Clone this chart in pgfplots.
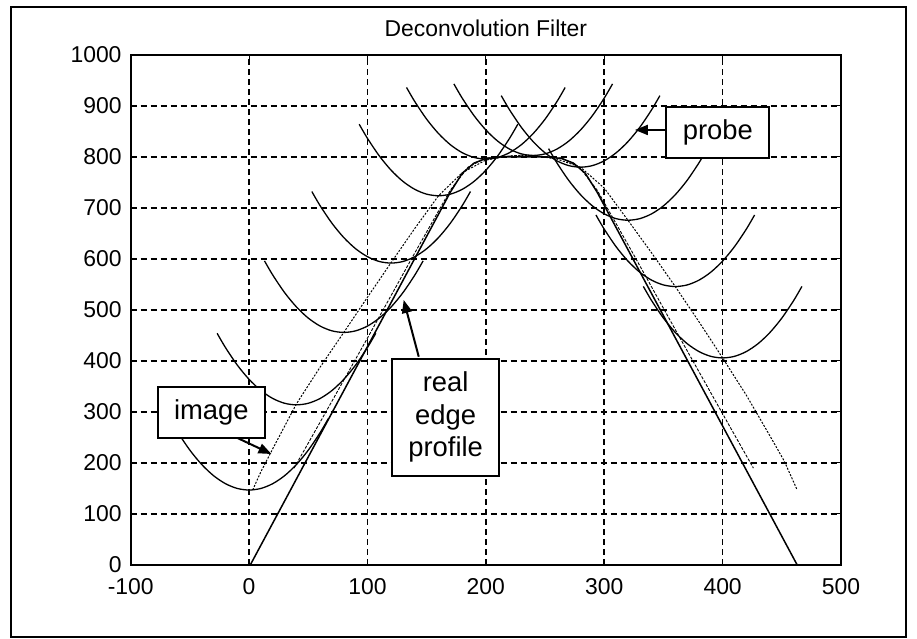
\documentclass[border=0pt]{standalone}
\usepackage{fontspec}
\setmainfont{Liberation Sans}
\usepackage{pgfplots}
\pgfplotsset{compat=1.18}
\usetikzlibrary{arrows.meta}
\begin{document}
\begin{tikzpicture}[x=1bp,y=1bp]
\path[use as bounding box] (0,0) rectangle (917,639);
\draw[line width=2bp] (11,2) rectangle (906,632);
\begin{axis}[
  at={(130.7bp,74bp)}, anchor=south west, scale only axis,
  width=710.3bp, height=510bp,
  xmin=-100, xmax=500, ymin=0, ymax=1000,
  xtick={-100,0,100,200,300,400,500},
  ytick={0,100,200,300,400,500,600,700,800,900,1000},
  grid=major,
  major grid style={dash pattern=on 6bp off 4bp, line width=1.5bp, black},
  axis line style={line width=1.6bp, black},
  tick style={black, line width=1bp}, major tick length=5bp, tick align=inside,
  /pgf/number format/assume math mode=true,
  /pgf/number format/1000 sep={},
  ticklabel style={font=\fontsize{23}{27}\selectfont, inner sep=0pt},
  xticklabel style={yshift=-13bp},
  yticklabel style={xshift=-9bp},
  clip=false,
]
% probe parabolas
\addplot[black, line width=1.3bp, smooth] coordinates {(-67,287.3) (-60,259.5) (-50,225.1) (-40,197) (-30,175.1) (-20,159.5) (-10,150.1) (0,147) (10,150.1) (20,159.5) (30,175.1) (40,197) (50,225.1) (60,259.5) (67,287.3)};
\addplot[black, line width=1.3bp, smooth] coordinates {(-27,454.3) (-20,426.5) (-10,392.1) (0,364) (10,342.1) (20,326.5) (30,317.1) (40,314) (50,317.1) (60,326.5) (70,342.1) (80,364) (90,392.1) (100,426.5) (107,454.3)};
\addplot[black, line width=1.3bp, smooth] coordinates {(13,596.3) (20,568.5) (30,534.1) (40,506) (50,484.1) (60,468.5) (70,459.1) (80,456) (90,459.1) (100,468.5) (110,484.1) (120,506) (130,534.1) (140,568.5) (147,596.3)};
\addplot[black, line width=1.3bp, smooth] coordinates {(53,732.3) (60,704.5) (70,670.1) (80,642) (90,620.1) (100,604.5) (110,595.1) (120,592) (130,595.1) (140,604.5) (150,620.1) (160,642) (170,670.1) (180,704.5) (187,732.3)};
\addplot[black, line width=1.3bp, smooth] coordinates {(93,864.3) (100,836.5) (110,802.1) (120,774) (130,752.1) (140,736.5) (150,727.1) (160,724) (170,727.1) (180,736.5) (190,752.1) (200,774) (210,802.1) (220,836.5) (227,864.3)};
\addplot[black, line width=1.3bp, smooth] coordinates {(133,936.3) (140,908.5) (150,874.1) (160,846) (170,824.1) (180,808.5) (190,799.1) (200,796) (210,799.1) (220,808.5) (230,824.1) (240,846) (250,874.1) (260,908.5) (267,936.3)};
\addplot[black, line width=1.3bp, smooth] coordinates {(173,943.3) (180,915.5) (190,881.1) (200,853) (210,831.1) (220,815.5) (230,806.1) (240,803) (250,806.1) (260,815.5) (270,831.1) (280,853) (290,881.1) (300,915.5) (307,943.3)};
\addplot[black, line width=1.3bp, smooth] coordinates {(213,920.3) (220,892.5) (230,858.1) (240,830) (250,808.1) (260,792.5) (270,783.1) (280,780) (290,783.1) (300,792.5) (310,808.1) (320,830) (330,858.1) (340,892.5) (347,920.3)};
\addplot[black, line width=1.3bp, smooth] coordinates {(253,816.3) (260,788.5) (270,754.1) (280,726) (290,704.1) (300,688.5) (310,679.1) (320,676) (330,679.1) (340,688.5) (350,704.1) (360,726) (370,754.1) (380,788.5) (387,816.3)};
\addplot[black, line width=1.3bp, smooth] coordinates {(293,686.3) (300,658.5) (310,624.1) (320,596) (330,574.1) (340,558.5) (350,549.1) (360,546) (370,549.1) (380,558.5) (390,574.1) (400,596) (410,624.1) (420,658.5) (427,686.3)};
\addplot[black, line width=1.3bp, smooth] coordinates {(333,546.3) (340,518.5) (350,484.1) (360,456) (370,434.1) (380,418.5) (390,409.1) (400,406) (410,409.1) (420,418.5) (430,434.1) (440,456) (450,484.1) (460,518.5) (467,546.3)};
% image (dotted)
\addplot[black, line width=1bp, dash pattern=on 2bp off 1.5bp] coordinates {(3,147) (10,183) (20,228) (30,272) (40,316) (60,388) (80,456) (100,525) (120,593) (140,660) (160,724) (180,769) (200,794) (220,802) (240,803) (260,796) (280,780) (300,739) (320,676) (340,612) (360,546) (380,477) (400,406) (420,333) (440,253) (452,204) (463,147)};
% reconstructed profile (thin dashed)
\addplot[black, line width=0.9bp, dash pattern=on 3bp off 1.5bp] coordinates {(38,190) (60,280) (100,445) (140,612) (170,735) (185,780) (200,798) (232,804) (264,798) (279,780) (294,735) (324,612) (364,445) (404,280) (426,190)};
% real edge profile
\addplot[black, line width=1.5bp] coordinates {(1,0) (170,731) (180,768) (190,788) (200,797) (212,800) (252,800) (264,797) (274,788) (284,768) (294,731) (463,0)};
% annotations
\draw[line width=2bp, -{Triangle[length=13bp,width=10bp]}] (axis cs:-9.8,249) -- (axis cs:18.9,217.6);
\node[draw, line width=2bp, fill=white, minimum width=107bp, minimum height=51bp, inner sep=0pt, font=\fontsize{27.5}{32.7}\selectfont] at (axis cs:-31.9,298.4) {image};
\draw[line width=2bp, -{Triangle[length=13bp,width=10bp]}] (axis cs:352.6,853) -- (axis cs:325.9,853);
\node[draw, line width=2bp, fill=white, minimum width=103bp, minimum height=51bp, inner sep=0pt, font=\fontsize{27.5}{32.7}\selectfont] at (axis cs:396,848.6) {probe};
\draw[line width=2bp, -{Triangle[length=13bp,width=10bp]}] (axis cs:143.3,408.4) -- (axis cs:130.6,519.6);
\node[draw, line width=2bp, fill=white, minimum width=107bp, minimum height=117bp, inner sep=0pt, align=center, font=\fontsize{27.5}{32.7}\selectfont] at (axis cs:166,290) {real\\edge\\profile};
\end{axis}
\node[anchor=base, font=\fontsize{23}{27}\selectfont] at (485.9,602) {Deconvolution Filter};
\end{tikzpicture}
\end{document}
